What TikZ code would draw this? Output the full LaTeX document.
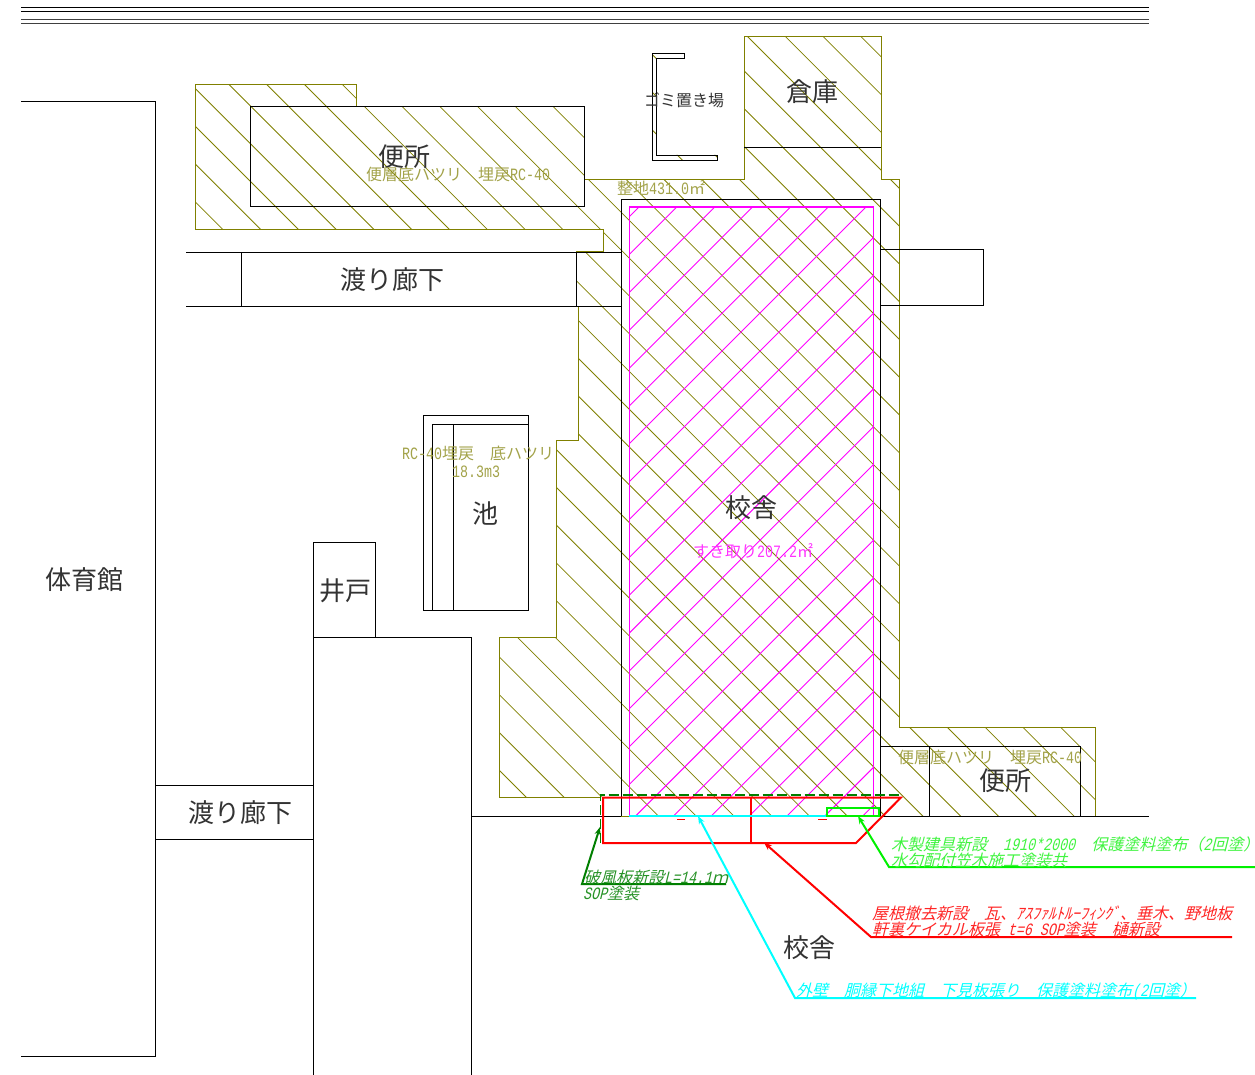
\documentclass[tikz,border=0pt]{standalone}
\usepackage{fontspec}
\usetikzlibrary{arrows.meta}
\setmainfont{Noto Sans CJK JP}
\newfontfamily\cjkr{Noto Sans CJK JP}
\newfontfamily\cjki[FakeSlant=0.25]{Noto Sans CJK JP}
\newfontfamily\latr[Scale=1.08,FakeStretch=0.772]{Liberation Mono}
\newfontfamily\lati[Scale=1.08,FakeStretch=0.772,FakeSlant=0.25]{Liberation Mono}
\newcommand{\La}[1]{{\latr #1}}
\newcommand{\Li}[1]{{\lati #1}}
\newcommand{\HalfParen}{\makebox[8pt][l]{）}}
\definecolor{olv}{HTML}{808000}
\definecolor{olvtext}{HTML}{A3A34A}
\definecolor{mag}{HTML}{FF00FF}
\definecolor{dgreen}{HTML}{007F00}
\definecolor{lgreen}{HTML}{00F000}
\definecolor{cyn}{HTML}{00FFFF}
\definecolor{inkc}{HTML}{333333}
\tikzset{
  hatchline/.style={olv,line width=0.8pt},
  maghatch/.style={mag,line width=0.9pt},
  outline/.style={olv,line width=1pt},
  wall/.style={black,line width=1pt},
  bigtext/.style={anchor=base,inner sep=0pt,text=inkc,font=\fontsize{26}{26}\selectfont\cjkr},
  oltext/.style={anchor=base west,inner sep=0pt,text=olvtext,font=\fontsize{16}{16}\selectfont\cjkr},
  magtext/.style={anchor=base west,inner sep=0pt,text=mag!80,font=\fontsize{16}{16}\selectfont\cjkr},
  slanted/.style={anchor=base west,inner sep=0pt,font=\fontsize{16}{16}\selectfont\cjki},
  leader/.style={line width=2pt,-{Stealth[length=8pt,width=6pt]}},
}
\begin{document}
\begin{tikzpicture}[x=1pt,y=-1pt]
\useasboundingbox (0,0) rectangle (1255,1075);
\fill[white] (0,0) rectangle (1255,1075);

% olive hatching
\begin{scope}
\clip (499,637) -- (556,637) -- (556,440) -- (578,440) -- (578,306) -- (576,306) -- (576,252) -- (603,252) -- (603,230) -- (195.5,230) -- (195.5,85) -- (356,85) -- (356,107) -- (584,107) -- (584,180) -- (744,180) -- (744,37) -- (881,37) -- (881,180) -- (899.5,180) -- (899.5,727) -- (1095.5,727) -- (1095.5,816) -- (621,816) -- (621,797) -- (499,797) -- cycle
 (652,54) -- (684,54) -- (684,59) -- (656,59) -- (656,155) -- (717,155) -- (717,161) -- (652,161) -- cycle;
\foreach \k in {-21,...,25} {
  \pgfmathsetmacro{\c}{144.5+37.77*\k}
  \draw[hatchline] ({\c},0) -- ({\c+1100},1100);
}
\end{scope}
% olive outline
\draw[outline] (499,637) -- (556,637) -- (556,440) -- (578,440) -- (578,306) -- (576,306) -- (576,252) -- (603,252) -- (603,230) -- (195.5,230) -- (195.5,85) -- (356,85) -- (356,107) -- (584,107) -- (584,180) -- (744,180) -- (744,37) -- (881,37) -- (881,180) -- (899.5,180) -- (899.5,727) -- (1095.5,727) -- (1095.5,816) -- (621,816);
\draw[outline] (600,797) -- (499,797) -- (499,637);

% magenta hatching
\begin{scope}
\clip (629.5,207) rectangle (873.5,816);
\foreach \k in {0,...,23} {
  \pgfmathsetmacro{\s}{846+37.85*\k}
  \draw[maghatch] ({\s},0) -- ({\s-1100},1100);
}
\end{scope}

% title lines
\draw[black,line width=1pt] (21,7.5) -- (1149,7.5);
\draw[black,line width=1pt] (21,11.5) -- (1149,11.5);
\draw[black!75,line width=1.3pt] (21,19.5) -- (1149,19.5);
\draw[black!75,line width=1.3pt] (21,23.5) -- (1149,23.5);

% buildings
\draw[wall] (21,101.5) -- (155.5,101.5) -- (155.5,1056) -- (21,1056);
\draw[wall] (155.5,785) -- (313,785);
\draw[wall] (155.5,839.5) -- (313,839.5);
\draw[wall] (313,1075) -- (313,637) -- (471.5,637) -- (471.5,1075);
\draw[wall] (313.5,637) -- (313.5,542) -- (375.5,542) -- (375.5,637);
\draw[wall] (472,816) -- (621,816);
\draw[wall] (881,816) -- (1149,816);
\draw[wall] (250,107) rectangle (584,207);
\draw[wall] (186,252.5) -- (621.5,252.5);
\draw[wall] (186,306.5) -- (621.5,306.5);
\draw[wall] (241.5,252.5) -- (241.5,306.5);
\draw[wall] (576,252.5) -- (576,306.5);
\draw[wall] (621.5,816) -- (621.5,199.5) -- (880.5,199.5) -- (880.5,816);
\draw[wall] (881,250) -- (983.5,250) -- (983.5,305) -- (881,305);
\draw[wall] (744,147.5) -- (881,147.5);
\draw[wall] (684,54) -- (652,54) -- (652,161) -- (717,161) -- (717,155.5) -- (656,155.5) -- (656,59) -- (684,59) -- cycle;
\draw[wall] (423,415) rectangle (528.5,610.5);
\draw[wall] (432.5,610.5) -- (432.5,424) -- (528.5,424);
\draw[wall] (453.5,424) -- (453.5,610.5);
\draw[wall] (881,746) -- (1080.5,746) -- (1080.5,816);
\draw[wall] (929.5,746) -- (929.5,816);

% magenta frame
\draw[mag,line width=1.2pt] (629.5,816) -- (629.5,207) -- (873.5,207) -- (873.5,816);

% red roof
\draw[red,line width=2pt] (603,797.5) -- (901,797.5) -- (856,843) -- (603,843) -- cycle;
\draw[red,line width=2pt] (751,797.5) -- (751,843);
\draw[red,line width=1pt] (677,819) -- (685,819);
\draw[red,line width=1pt] (818,819) -- (827,819);
% dashed green verge
\draw[dgreen,line width=1.8pt,dash pattern=on 10pt off 4pt] (600.5,843) -- (600.5,795) -- (900,795);
% cyan wall
\draw[cyn,line width=2pt] (629,816) -- (827,816);
% green door
\draw[lgreen,line width=2pt] (827,808) rectangle (879,816);

% leaders
\coordinate (dgTip) at (600,827);
\coordinate (dgBend) at (582,884);
\coordinate (dgEnd) at (726,884);
\draw[leader,dgreen] (dgEnd) -- (dgBend) -- (dgTip);
\coordinate (rTip) at (764,842.5);
\coordinate (rBend) at (871,937);
\coordinate (rEnd) at (1232,937);
\draw[leader,red] (rEnd) -- (rBend) -- (rTip);
\coordinate (cTip) at (698,816);
\coordinate (cBend) at (795,998);
\coordinate (cEnd) at (1196,998);
\draw[leader,cyn] (cEnd) -- (cBend) -- (cTip);
\coordinate (gTip) at (858,816);
\coordinate (gBend) at (889,867);
\coordinate (gEnd) at (1255,867);
\draw[leader,lgreen] (gEnd) -- (gBend) -- (gTip);

% big labels
\node[bigtext] (toilet1) at (404,167) {便所};
\node[bigtext] (corr1) at (392,290) {渡り廊下};
\node[bigtext] (store) at (812,102) {倉庫};
\node[bigtext] (school1) at (751,517) {校舎};
\node[bigtext] (school2) at (809,957) {校舎};
\node[bigtext] (pond) at (485,523) {池};
\node[bigtext] (well) at (345,600) {井戸};
\node[bigtext] (gym) at (84,589) {体育館};
\node[bigtext] (corr2) at (240,822) {渡り廊下};
\node[bigtext] (toilet2) at (1005,790) {便所};
\node[anchor=base,inner sep=0pt,text=inkc,font=\fontsize{16}{16}\selectfont\cjkr] (garbage) at (684,107) {ゴミ置き場};

% olive labels
\node[oltext] (t1note) at (366,181) {便層底ハツリ　埋戻\La{RC-40}};
\node[oltext] (t2note) at (898,763) {便層底ハツリ　埋戻\La{RC-40}};
\node[oltext] (grade) at (617,195) {整地\La{431.0}㎡};
\node[oltext] (pnote1) at (402,459) {\La{RC-40}埋戻　底ハツリ};
\node[oltext] (pnote2) at (452,477) {\La{18.3m3}};
\node[magtext] (strip) at (693,557) {すき取り\La{207.2}㎡};

% annotation labels
\node[slanted,text=lgreen!75] (g1) at (891,850) {木製建具新設　\Li{1910*2000}　保護塗料塗布（\Li{2}回塗\HalfParen};
\node[slanted,text=lgreen!75] (g2) at (891,866) {水勾配付笠木施工塗装共};
\node[slanted,text=red!85] (r1) at (872,919) {屋根撤去新設　瓦、ｱｽﾌｧﾙﾄﾙｰﾌｨﾝｸﾞ、垂木、野地板};
\node[slanted,text=red!85] (r2) at (872,935) {軒裏ケイカル板張\Li{ t=6 SOP}塗装　樋新設};
\node[slanted,text=cyn] (c1) at (796,996) {外壁　胴縁下地組　下見板張り　保護塗料塗布\Li{(2}回塗\HalfParen};
\node[slanted,text=dgreen!85] (d1) at (584,883) {破風板新設\Li{L=14.1}ｍ};
\node[slanted,text=dgreen!85] (d2) at (583,899) {\Li{SOP}塗装};
\end{tikzpicture}
\end{document}
